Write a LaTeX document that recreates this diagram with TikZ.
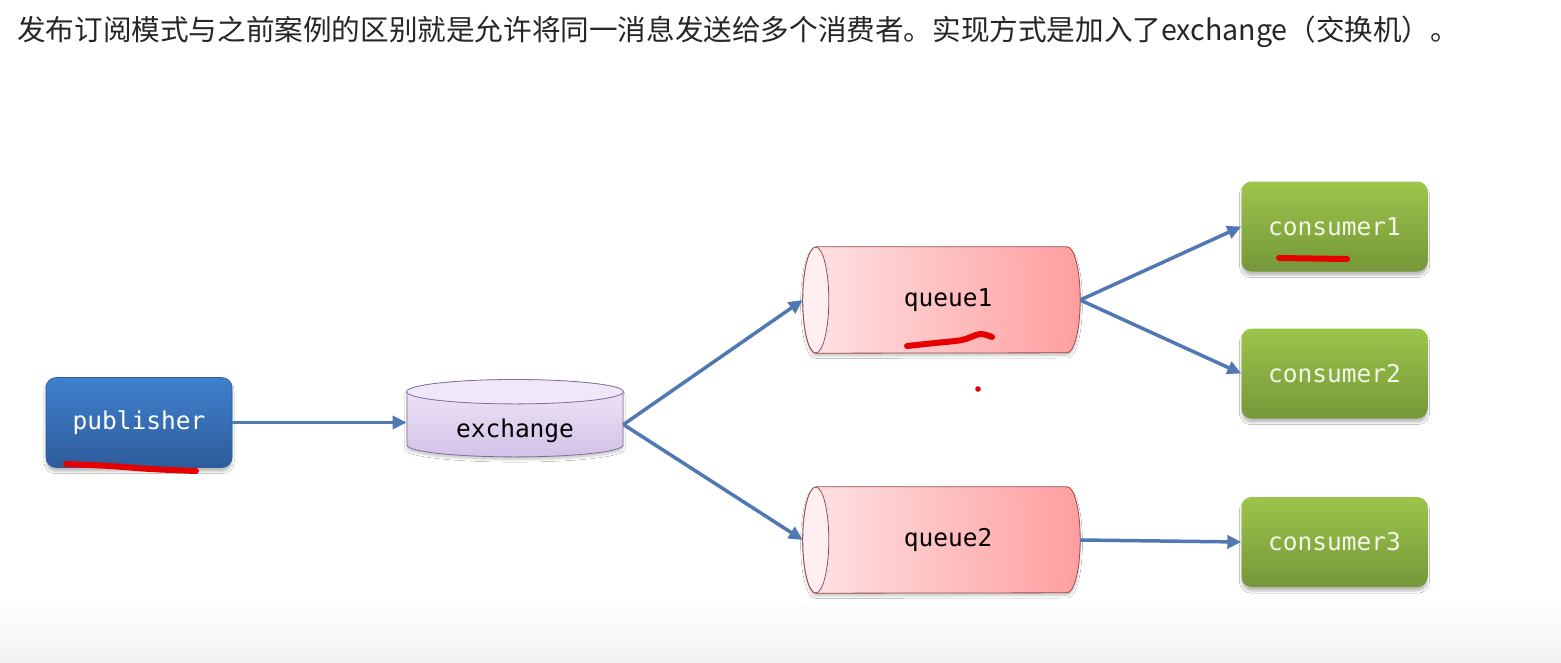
\documentclass[tikz,border=0pt]{standalone}
\usepackage{fontspec}
\setmainfont{Noto Sans CJK SC}
\newfontfamily\monofont{DejaVu Sans Mono}
\usetikzlibrary{shapes.geometric,arrows.meta,shadows.blur,calc,backgrounds}

\definecolor{pubtop}{HTML}{3F80CD}
\definecolor{pubbot}{HTML}{2E5C9B}
\definecolor{contop}{HTML}{9CC54B}
\definecolor{conbot}{HTML}{759739}
\definecolor{context}{HTML}{F3F8E8}
\definecolor{qleft}{HTML}{FFE4E6}
\definecolor{qright}{HTML}{FF9E9E}
\definecolor{qcap}{HTML}{FFEFF1}
\definecolor{qline}{HTML}{9A4A4E}
\definecolor{extop}{HTML}{F0E8F8}
\definecolor{exbot}{HTML}{D3C2E8}
\definecolor{exline}{HTML}{7F7096}
\definecolor{flowblue}{HTML}{5079B3}
\definecolor{scrred}{HTML}{E60000}
\definecolor{titletext}{HTML}{262626}

\tikzset{
  labelfont/.style={font=\monofont\fontsize{24.5}{28}\selectfont},
  box/.style={labelfont, rounded corners=10pt, minimum width=186pt,
    minimum height=90pt, inner sep=0pt,
    blur shadow={shadow xshift=0pt, shadow yshift=-4pt, shadow opacity=25}},
  pubbox/.style={box, top color=pubtop, bottom color=pubbot, text=white,
    draw=pubbot, line width=0.6pt},
  conbox/.style={box, top color=contop, bottom color=conbot, text=context},
  queue/.style={labelfont, minimum width=277pt, minimum height=106pt, inner sep=0pt},
  qbody/.style={left color=qleft, right color=qright, draw=qline, line width=0.8pt,
    blur shadow={shadow xshift=0pt, shadow yshift=-3pt, shadow opacity=20}},
  qend/.style={fill=qcap, draw=qline, line width=0.8pt},
  exch/.style={labelfont, cylinder, shape border rotate=90, aspect=0.2,
    minimum width=216pt, minimum height=77pt, inner sep=0pt,
    text height=26pt, text depth=1pt,
    top color=extop, bottom color=exbot, draw=exline, line width=0.8pt,
    blur shadow={shadow xshift=0pt, shadow yshift=-3pt, shadow opacity=20}},
  flow/.style={draw=flowblue, line width=3.5pt, -{Triangle[length=14pt,width=13pt]}},
  scribble/.style={draw=scrred, line width=6pt, line cap=round, line join=round},
}

\begin{document}
\begin{tikzpicture}[x=1pt, y=-1pt]
  \useasboundingbox (0,0) rectangle (1561,662);

  % heading
  \node[anchor=base west, inner sep=0pt, text=titletext,
    font=\fontsize{28.6}{32}\selectfont] (title) at (17,40)
    {发布订阅模式与之前案例的区别就是允许将同一消息发送给多个消费者。实现方式是加入了exchange（交换机）。};

  % nodes
  \node[pubbox] (pub) at (139,422.5) {publisher};
  \node[exch] (ex) at (515,424.5) {exchange};
  \node[queue] (q1) at (941.5,300) {\hspace*{13pt}queue1};
  \node[queue] (q2) at (941.5,540) {\hspace*{13pt}queue2};
  \node[conbox] (c1) at (1334.5,226.5) {consumer1};
  \node[conbox] (c2) at (1334.5,373.5) {consumer2};
  \node[conbox] (c3) at (1334.5,542) {consumer3};

  \begin{scope}[on background layer]
    \fill[white] (0,0) rectangle (1561,662);
    \shade[top color=white, bottom color=black!5] (0,600) rectangle (1561,662);
    \foreach \q in {q1,q2} {
      \path[qbody] ([xshift=13pt]\q.north west) -- ([xshift=-13pt]\q.north east)
        arc[start angle=90, end angle=-90, x radius=13pt, y radius=53pt]
        -- ([xshift=13pt]\q.south west)
        arc[start angle=270, end angle=90, x radius=13pt, y radius=53pt] -- cycle;
      \path[qend] ([xshift=13pt]\q.west) ellipse[x radius=13pt, y radius=53pt];
    }
  \end{scope}

  % top of the exchange
  \filldraw[fill=extop, draw=exline, line width=0.8pt]
    let \p1=(ex.before top), \p2=(ex.after top), \p3=(ex.top) in
    ($(\p1)!0.5!(\p2)$) ellipse ({abs(\x1-\x2)/2} and {abs(\y1-\y3)});

  % connectors
  \draw[flow] (pub) -- (pub -| ex.west);
  \draw[flow] (ex.east) -- (q1.west);
  \draw[flow] (ex.east) -- (q2.west);
  \draw[flow] (q1.east) -- (c1.west);
  \draw[flow] (q1.east) -- (c2.west);
  \draw[flow] (q2.east) -- (c3.west);

  % hand marks
  \draw[scribble] plot[smooth] coordinates {(66,464) (110,466) (150,469) (196,471)};
  \draw[scribble] plot[smooth] coordinates {(907,346) (935,343) (962,340) (980,334) (992,337)};
  \draw[scribble] (1279,258) -- (1347,259);
  \fill[scrred] (978,389) circle (2.8);
\end{tikzpicture}
\end{document}
